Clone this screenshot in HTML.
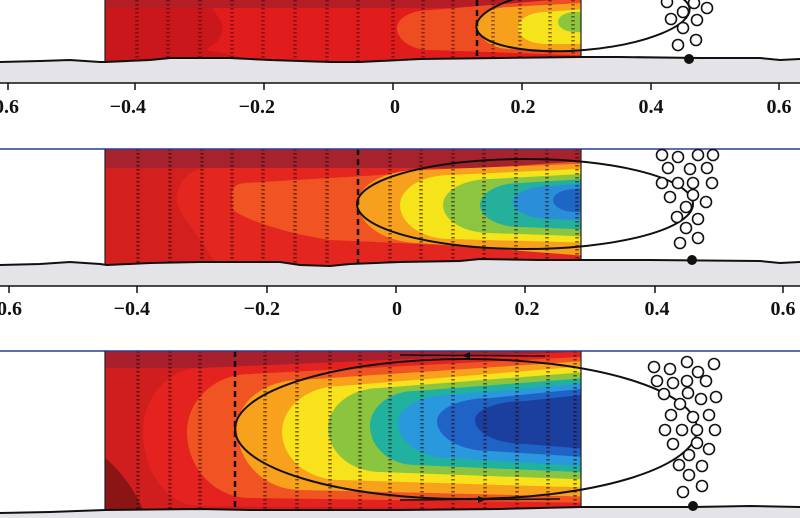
<!DOCTYPE html>
<html><head><meta charset="utf-8"><style>
html,body{margin:0;padding:0;background:#fff;}
svg{display:block;}
text{font-family:"Liberation Serif",serif;font-weight:bold;font-size:20px;fill:#111;}
</style></head><body>
<svg width="800" height="518" viewBox="0 0 800 518" xmlns="http://www.w3.org/2000/svg">
<defs>
<clipPath id="c1"><rect x="105" y="0" width="476" height="70"/></clipPath>
<clipPath id="c2"><rect x="105" y="149" width="476" height="120"/></clipPath>
<clipPath id="c3"><rect x="105" y="351" width="476" height="165"/></clipPath>
</defs>
<rect width="800" height="518" fill="#fff"/>

<!-- ===== PANEL 1 ===== -->
<g clip-path="url(#c1)">
<rect x="105" y="0" width="476" height="70" fill="#e11c1c"/>
<path d="M105,0 L208,0 C212,12 225,20 222,32 C220,42 210,46 206,50 C220,53 240,55 250,62 L105,66 Z" fill="#c9171c"/>
<rect x="105" y="0" width="476" height="8" fill="#b41d26"/>
<path d="M600,-4 L430,10 A33,18 0 0 0 397,28 A33,22 0 0 0 430,50 L600,56 Z" fill="#ee4d22"/>
<path d="M600,2 L510,7 A33,17 0 0 0 477,24 A33,25 0 0 0 510,49 L600,51 Z" fill="#f6a01c"/>
<path d="M600,8 L545,12 A27,16 0 0 0 518,28 A27,16 0 0 0 545,44 L600,44 Z" fill="#f5e31b"/>
<path d="M600,11 L575,12 A17,10 0 0 0 558,22 A17,10 0 0 0 575,32 L600,33 Z" fill="#8cc63f"/>
<g stroke="#3a0808" stroke-opacity="0.55" stroke-width="3.5" stroke-dasharray="1.5 2.5">
<path d="M137,0V62M168,0V62M200,0V62M232,0V62M263,0V62M295,0V62M327,0V62M358,0V62M393,0V62M423,0V62M453,0V62M493,0V62M520,0V62M550,0V62M573,0V62"/>
</g>
<path d="M477,0V62" stroke="#111" stroke-width="2.5" stroke-dasharray="6 4"/>
</g>
<path d="M105,0V62M581,0V57" stroke="#222" stroke-width="1.2"/>
<ellipse cx="583" cy="18" rx="107" ry="32" transform="rotate(-5 583 18)" fill="none" stroke="#111" stroke-width="2"/>
<polygon points="0,62 40,61 70,60 100,62 105,62 150,60 170,58 230,58 270,60 330,62 360,62 420,59 500,58 581,57 620,57 700,58 760,58 780,60 800,59 800,83 0,83" fill="#e3e3e8"/>
<polyline points="0,62 40,61 70,60 100,62 105,62 150,60 170,58 230,58 270,60 330,62 360,62 420,59 500,58 581,57 620,57 700,58 760,58 780,60 800,59" fill="none" stroke="#111" stroke-width="2"/>
<g fill="#fff" stroke="#111" stroke-width="1.6">
<circle cx="667" cy="2" r="5.5"/><circle cx="694" cy="3" r="5.5"/><circle cx="707" cy="8" r="5.5"/><circle cx="683" cy="12" r="5.5"/><circle cx="671" cy="19" r="5.5"/><circle cx="697" cy="20" r="5.5"/><circle cx="683" cy="28" r="5.5"/><circle cx="678" cy="45" r="5.5"/><circle cx="696" cy="40" r="5.5"/>
</g>
<circle cx="689" cy="59" r="5" fill="#111"/>
<line x1="0" y1="83" x2="800" y2="83" stroke="#111" stroke-width="1.5"/>
<path d="M8,83V90M135,83V90M264,83V90M393,83V90M522,83V90M651,83V90M779,83V90" stroke="#111" stroke-width="1.5"/>
<text x="19" y="113" text-anchor="end">−0.6</text>
<text x="146" y="113" text-anchor="end">−0.4</text>
<text x="275" y="113" text-anchor="end">−0.2</text>
<text x="395" y="113" text-anchor="middle">0</text>
<text x="523" y="113" text-anchor="middle">0.2</text>
<text x="651" y="113" text-anchor="middle">0.4</text>
<text x="779" y="113" text-anchor="middle">0.6</text>

<!-- ===== PANEL 2 ===== -->
<g clip-path="url(#c2)">
<rect x="105" y="149" width="476" height="120" fill="#d31f1e"/>
<rect x="105" y="149" width="476" height="19" fill="#a6232e"/>
<path d="M600,168 L205,168 C188,170 177,183 177,200 C177,214 198,232 218,268 L600,268 Z" fill="#e32720"/>
<path d="M600,160 L380,175 L245,183 C235,184 232,188 232,195 L233,210 C250,222 290,234 330,240 L600,252 Z" fill="#f05423"/>
<path d="M600,163 L420,170 A62,33 0 0 0 358,203 A62,40 0 0 0 420,243 L600,257 Z" fill="#f7a01d"/>
<path d="M600,168 L450,175 A50,30 0 0 0 400,205 A50,34 0 0 0 450,239 L600,243 Z" fill="#f6e41b"/>
<path d="M600,173 L490,179 A47,26 0 0 0 443,205 A47,28 0 0 0 490,233 L600,237 Z" fill="#8cc540"/>
<path d="M600,178 L520,183 A40,22 0 0 0 480,205 A40,22 0 0 0 520,227 L600,230 Z" fill="#25b09c"/>
<path d="M600,182 L550,186 A37,16 0 0 0 513,202 A37,17 0 0 0 550,219 L600,221 Z" fill="#2a8fd8"/>
<path d="M600,187 L575,189 A22,11 0 0 0 553,200 A22,12 0 0 0 575,212 L600,212 Z" fill="#1e66c4"/>
<g stroke="#2a0606" stroke-opacity="0.6" stroke-width="3.5" stroke-dasharray="1.5 2.5">
<path d="M138,149V265M170,149V265M202,149V265M232,149V265M263,149V265M295,149V265M327,149V265M390,149V265M421,149V265M453,149V265M484,149V265M516,149V265M547,149V265M577,149V265"/>
</g>
<path d="M358,149V265" stroke="#111" stroke-width="2.5" stroke-dasharray="6 4"/>
</g>
<line x1="0" y1="149" x2="800" y2="149" stroke="#2c3f8f" stroke-width="1.6"/>
<path d="M105,149V265M581,149V260" stroke="#222" stroke-width="1.2"/>
<ellipse cx="525" cy="204" rx="168" ry="45" fill="none" stroke="#111" stroke-width="2"/>
<polygon points="0,265 40,264 70,262 100,264 107,265 150,263 200,262 280,262 300,265 330,266 350,264 400,262 460,261 480,259 540,260 581,260 650,260 760,261 780,263 800,262 800,286 0,286" fill="#e3e3e8"/>
<polyline points="0,265 40,264 70,262 100,264 107,265 150,263 200,262 280,262 300,265 330,266 350,264 400,262 460,261 480,259 540,260 581,260 650,260 760,261 780,263 800,262" fill="none" stroke="#111" stroke-width="2"/>
<g fill="#fff" stroke="#111" stroke-width="1.6">
<circle cx="662" cy="155" r="5.5"/><circle cx="678" cy="157" r="5.5"/><circle cx="698" cy="155" r="5.5"/><circle cx="713" cy="155" r="5.5"/>
<circle cx="668" cy="168" r="5.5"/><circle cx="690" cy="169" r="5.5"/><circle cx="707" cy="168" r="5.5"/>
<circle cx="662" cy="183" r="5.5"/><circle cx="678" cy="183" r="5.5"/><circle cx="693" cy="183" r="5.5"/><circle cx="712" cy="183" r="5.5"/>
<circle cx="670" cy="197" r="5.5"/><circle cx="693" cy="195" r="5.5"/><circle cx="706" cy="202" r="5.5"/>
<circle cx="686" cy="207" r="5.5"/><circle cx="677" cy="217" r="5.5"/><circle cx="698" cy="219" r="5.5"/>
<circle cx="686" cy="228" r="5.5"/><circle cx="680" cy="243" r="5.5"/><circle cx="698" cy="238" r="5.5"/>
</g>
<circle cx="692" cy="260" r="5" fill="#111"/>
<line x1="0" y1="286" x2="800" y2="286" stroke="#111" stroke-width="1.5"/>
<path d="M9,286V293M137,286V293M267,286V293M396,286V293M525,286V293M655,286V293M783,286V293" stroke="#111" stroke-width="1.5"/>
<text x="22" y="315" text-anchor="end">−0.6</text>
<text x="150" y="315" text-anchor="end">−0.4</text>
<text x="280" y="315" text-anchor="end">−0.2</text>
<text x="397" y="315" text-anchor="middle">0</text>
<text x="527" y="315" text-anchor="middle">0.2</text>
<text x="657" y="315" text-anchor="middle">0.4</text>
<text x="783" y="315" text-anchor="middle">0.6</text>

<!-- ===== PANEL 3 ===== -->
<g clip-path="url(#c3)">
<rect x="105" y="351" width="476" height="165" fill="#d01e1f"/>
<rect x="105" y="351" width="476" height="17" fill="#a91f2c"/>
<path d="M105,458 C120,470 135,490 145,514 L105,514 Z" fill="#8b1414"/>
<path d="M600,351 L200,368 A57,64 0 0 0 143,432 A57,74 0 0 0 200,506 L600,509 Z" fill="#e42320"/>
<path d="M600,356 L250,374 A63,58 0 0 0 187,432 A63,66 0 0 0 250,498 L600,503 Z" fill="#f05423"/>
<path d="M600,360 L300,380 A63,48 0 0 0 237,428 A63,62 0 0 0 300,490 L600,497 Z" fill="#f7a11c"/>
<path d="M600,365 L340,386 A58,46 0 0 0 282,432 A58,48 0 0 0 340,480 L600,488 Z" fill="#f8e21b"/>
<path d="M600,371 L380,388 A52,40 0 0 0 328,428 A52,44 0 0 0 380,472 L600,480 Z" fill="#8bc53f"/>
<path d="M600,377 L415,391 A45,35 0 0 0 370,426 A45,39 0 0 0 415,465 L600,473 Z" fill="#20b19f"/>
<path d="M600,382 L450,395 A52,28 0 0 0 398,423 A52,35 0 0 0 450,458 L600,467 Z" fill="#2a98dc"/>
<path d="M600,387 L490,398 A53,23 0 0 0 437,421 A53,30 0 0 0 490,451 L600,458 Z" fill="#1f63c6"/>
<path d="M600,393 L525,401 A50,19 0 0 0 475,420 A50,24 0 0 0 525,444 L600,450 Z" fill="#1b3f9e"/>
<g stroke="#2a0606" stroke-opacity="0.6" stroke-width="3.5" stroke-dasharray="1.5 2.5">
<path d="M138,351V512M170,351V512M200,351V512M265,351V512M297,351V512M330,351V512M360,351V512M390,351V512M422,351V512M453,351V512M485,351V512M517,351V512M548,351V512M575,351V512"/>
</g>
<path d="M235,351V512" stroke="#111" stroke-width="2.5" stroke-dasharray="6 4"/>
<path d="M400,355 L545,356" stroke="#111" stroke-width="1.5"/>
<path d="M400,500 L560,499" stroke="#111" stroke-width="1.5"/>
<path d="M470,352 L462,355.5 L470,359 Z M478,496 L486,499.5 L478,503 Z" fill="#111"/>
</g>
<line x1="0" y1="351" x2="800" y2="351" stroke="#2c3f8f" stroke-width="1.6"/>
<path d="M105,351V511M581,351V507" stroke="#222" stroke-width="1.2"/>
<ellipse cx="466" cy="429" rx="231" ry="70" fill="none" stroke="#111" stroke-width="2"/>
<polygon points="0,513 50,512 105,510 200,509 250,510 400,510 500,509 581,507 693,507 750,506 800,507 800,518 0,518" fill="#e3e3e8"/>
<polyline points="0,513 50,512 105,510 200,509 250,510 400,510 500,509 581,507 693,507 750,506 800,507" fill="none" stroke="#111" stroke-width="2"/>
<g fill="#fff" stroke="#111" stroke-width="1.6">
<circle cx="654" cy="367" r="5.5"/><circle cx="670" cy="369" r="5.5"/><circle cx="687" cy="362" r="5.5"/><circle cx="698" cy="372" r="5.5"/><circle cx="714" cy="364" r="5.5"/>
<circle cx="657" cy="381" r="5.5"/><circle cx="673" cy="383" r="5.5"/><circle cx="687" cy="381" r="5.5"/><circle cx="706" cy="381" r="5.5"/>
<circle cx="664" cy="394" r="5.5"/><circle cx="680" cy="404" r="5.5"/><circle cx="688" cy="393" r="5.5"/><circle cx="701" cy="399" r="5.5"/><circle cx="716" cy="397" r="5.5"/>
<circle cx="671" cy="415" r="5.5"/><circle cx="693" cy="417" r="5.5"/><circle cx="709" cy="415" r="5.5"/>
<circle cx="665" cy="430" r="5.5"/><circle cx="682" cy="430" r="5.5"/><circle cx="697" cy="430" r="5.5"/><circle cx="715" cy="430" r="5.5"/>
<circle cx="673" cy="444" r="5.5"/><circle cx="697" cy="443" r="5.5"/><circle cx="709" cy="449" r="5.5"/>
<circle cx="689" cy="455" r="5.5"/><circle cx="679" cy="465" r="5.5"/><circle cx="702" cy="466" r="5.5"/>
<circle cx="689" cy="475" r="5.5"/><circle cx="702" cy="486" r="5.5"/><circle cx="683" cy="492" r="5.5"/>
</g>
<circle cx="693" cy="506" r="5" fill="#111"/>
</svg>
</body></html>
